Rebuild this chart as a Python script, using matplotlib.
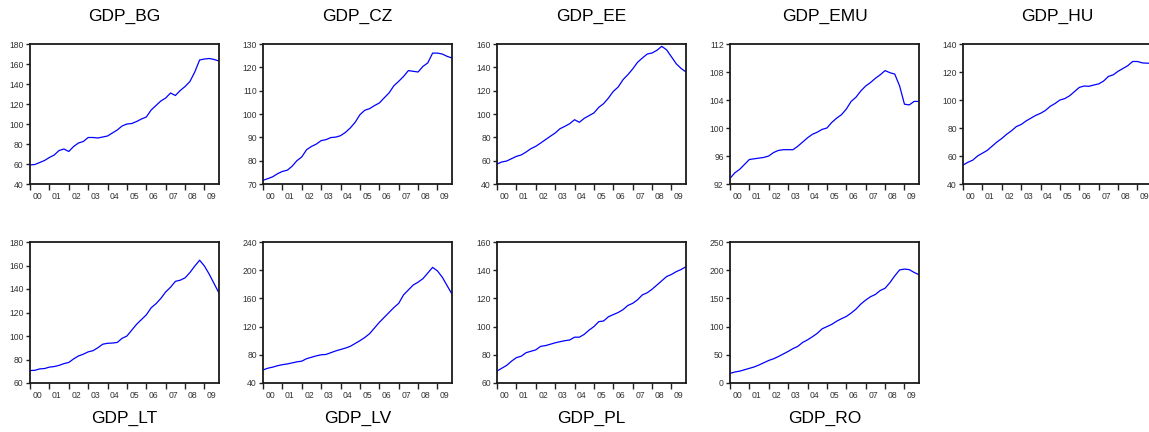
import matplotlib
matplotlib.use("Agg")
import matplotlib.pyplot as plt
import numpy as np

plt.rcParams['font.family'] = ['Liberation Sans', 'DejaVu Sans']

# quarterly observations 2000Q1 .. 2009Q4
years = list(range(2000, 2010))
year_labels = ['00', '01', '02', '03', '04', '05', '06', '07', '08', '09']

gdp_bg = [59, 59.5, 61.5, 63.5, 66.5, 69, 73.5, 75, 72.5, 77.5, 81, 82.5,
          86.5, 86.5, 86, 87, 88, 91, 94, 98, 100, 100.5, 102.5, 105,
          107, 114, 118.5, 123, 126, 131, 128.5, 133.5, 137.5, 142.5, 152, 164,
          165, 165.5, 164.5, 163]
gdp_cz = [71.6, 72.3, 73.1, 74.4, 75.4, 75.9, 77.6, 80, 81.6, 84.7, 86.1, 87.1,
          88.6, 89, 89.9, 90.1, 90.7, 92.1, 94, 96.4, 99.7, 101.6, 102.3, 103.6,
          104.7, 106.9, 109, 112.1, 114, 116.1, 118.6, 118.3, 118, 120.4, 121.9, 126.1,
          126.1, 125.7, 124.7, 124]
gdp_ee = [57.1, 58.9, 59.7, 61.7, 63.7, 64.9, 67.4, 70.3, 72.3, 75.1, 78, 80.9,
          83.7, 87.4, 89.4, 91.7, 95.1, 92.9, 96.3, 98.6, 100.9, 105.7, 108.9, 113.7,
          119.4, 123.1, 129.4, 133.7, 138.6, 144.3, 148, 151.4, 152.3, 154.6, 158, 155,
          149, 143, 139, 136]
gdp_emu = [92.8, 93.6, 94.1, 94.8, 95.5, 95.6, 95.7, 95.8, 96, 96.5, 96.8, 96.9,
           96.9, 96.9, 97.4, 98, 98.6, 99.1, 99.4, 99.8, 100, 100.8, 101.4, 101.9,
           102.7, 103.8, 104.4, 105.3, 106, 106.5, 107.1, 107.6, 108.2, 107.9, 107.7, 106,
           103.4, 103.3, 103.8, 103.8]
gdp_hu = [53.5, 55.5, 57, 60, 62, 64, 67, 70, 72.5, 75.5, 78, 81,
          82.5, 85, 87, 89, 90.5, 92.5, 95.5, 97.5, 100, 101, 103, 106,
          109, 110, 109.8, 110.7, 111.5, 113.5, 116.8, 118, 120.5, 122.5, 124.5, 127.5,
          127.5, 126.5, 126.3, 126.3]
gdp_lt = [70.6, 70.8, 72, 72.3, 73.5, 74, 75, 76.5, 77.5, 80.5, 83, 84.5,
          86.5, 87.5, 90, 93, 93.8, 94, 94.5, 98, 100, 105, 110, 114,
          118, 124, 127.5, 132, 137.5, 141.5, 146.5, 147.5, 149.5, 154, 159.5, 164.5,
          159.5, 152.5, 144.5, 136.5]
gdp_lv = [58.5, 61, 62.5, 64.5, 66, 67, 68.5, 70, 71, 74.5, 76.5, 78.5,
          80, 80.5, 83, 85.5, 87.5, 89.5, 92, 96, 100, 104.5, 110, 118,
          126, 133, 140, 147, 153, 165, 172, 179, 183, 188, 196, 204,
          199, 190, 178, 166]
gdp_pl = [68.5, 70.5, 72.5, 75.5, 78, 79, 81.5, 82.5, 83.5, 86, 86.5, 87.5,
          88.5, 89.3, 90, 90.5, 92.5, 92.5, 94.5, 97.5, 100, 103.5, 104, 107,
          108.5, 110, 112, 115, 116.5, 119, 122.5, 124, 126.5, 129.5, 132.5, 135.5,
          137, 139, 140.5, 142.5]
gdp_ro = [17, 19.5, 21, 23.5, 26, 28.5, 32, 36, 40, 43, 47, 51.5,
          56, 61, 65, 72, 76.5, 82, 88, 96, 100, 104, 109.5, 114,
          118, 124, 131, 140, 147, 153, 157, 164, 168, 178, 190, 200.5,
          202, 201, 196, 192]

titles = ['GDP_BG', 'GDP_CZ', 'GDP_EE', 'GDP_EMU', 'GDP_HU',
          'GDP_LT', 'GDP_LV', 'GDP_PL', 'GDP_RO']
series = [gdp_bg, gdp_cz, gdp_ee, gdp_emu, gdp_hu,
          gdp_lt, gdp_lv, gdp_pl, gdp_ro]
y_ranges = [(40, 180, 20), (70, 130, 10), (40, 160, 20), (92, 112, 4), (40, 140, 20),
            (60, 180, 20), (40, 240, 40), (60, 160, 20), (0, 250, 50)]

W, H = 1149, 432
fig = plt.figure(figsize=(W / 100, H / 100), dpi=100)

lefts = [30, 263, 497, 730, 963]
ax_w = 189
rows = [(44, 184), (242, 383)]

x = np.array([y + q / 4 for y in years for q in range(4)])

for k, (title, vals, yr) in enumerate(zip(titles, series, y_ranges)):
    r, c = divmod(k, 5)
    top, bot = rows[r]
    left = lefts[c]
    ax = fig.add_axes([left / W, 1 - bot / H, ax_w / W, (bot - top) / H])
    ax.plot(x, vals, color='#0000ff', lw=0.9)
    ax.set_xlim(2000, 2009.75)
    ax.set_ylim(yr[0], yr[1])
    ax.set_yticks(np.arange(yr[0], yr[1] + 0.1, yr[2]))
    ax.set_xticks(years)
    ax.set_xticklabels([])
    ax.set_xticks([y + 0.375 for y in years], minor=True)
    ax.set_xticklabels(year_labels, minor=True)
    ax.tick_params(axis='x', which='major', length=4, width=1, direction='out', color='#222222')
    ax.tick_params(axis='x', which='minor', length=0, labelsize=6.2, pad=5.5, labelcolor='#333333')
    ax.tick_params(axis='y', length=3, width=1, direction='out', labelsize=6.2, pad=1.5,
                   labelcolor='#333333', color='#222222')
    for s in ax.spines.values():
        s.set_linewidth(1.3)
        s.set_color('#1a1a1a')
    cx = (left + ax_w / 2) / W
    if r == 0:
        fig.text(cx, 1 - 16.5 / H, title, ha='center', va='center', fontsize=12.5)
    else:
        fig.text(cx, 1 - 418.5 / H, title, ha='center', va='center', fontsize=12.5)

fig.savefig('out.png', dpi=100)
